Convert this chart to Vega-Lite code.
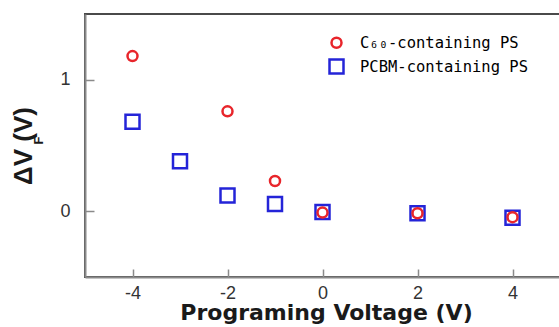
{
  "$schema": "https://vega.github.io/schema/vega-lite/v6.json",
  "width": 475,
  "height": 263,
  "autosize": {"type": "none"},
  "padding": {"left": 85, "top": 14, "right": 0, "bottom": 50},
  "background": "white",
  "config": {"view": {"stroke": "#4a4a4a", "strokeWidth": 2}, "font": "Liberation Sans"},
  "data": {
    "values": [
      {"voltage": -4, "dvf": 0.68, "series": "PCBM-containing PS"},
      {"voltage": -3, "dvf": 0.38, "series": "PCBM-containing PS"},
      {"voltage": -2, "dvf": 0.12, "series": "PCBM-containing PS"},
      {"voltage": -1, "dvf": 0.055, "series": "PCBM-containing PS"},
      {"voltage": 0, "dvf": -0.005, "series": "PCBM-containing PS"},
      {"voltage": 2, "dvf": -0.015, "series": "PCBM-containing PS"},
      {"voltage": 4, "dvf": -0.05, "series": "PCBM-containing PS"},
      {"voltage": -4, "dvf": 1.18, "series": "C₆₀-containing PS"},
      {"voltage": -2, "dvf": 0.76, "series": "C₆₀-containing PS"},
      {"voltage": -1, "dvf": 0.23, "series": "C₆₀-containing PS"},
      {"voltage": 0, "dvf": -0.01, "series": "C₆₀-containing PS"},
      {"voltage": 2, "dvf": -0.015, "series": "C₆₀-containing PS"},
      {"voltage": 4, "dvf": -0.045, "series": "C₆₀-containing PS"}
    ]
  },
  "layer": [
    {
      "mark": {"type": "point", "filled": false, "strokeWidth": 2.5, "opacity": 1, "clip": false},
      "encoding": {
        "x": {
          "field": "voltage", "type": "quantitative",
          "scale": {"domain": [-5, 5], "nice": false, "zero": false},
          "axis": {
            "values": [-4, -2, 0, 2, 4], "grid": false, "ticks": false, "tickSize": 0,
            "labelExpr": "replace(datum.label, '−', '-')",
            "domainColor": "#8a8a8a", "domainWidth": 2,
            "labelFontSize": 18, "labelColor": "#333333", "labelPadding": 7,
            "labelFont": "Liberation Sans",
            "title": "Programing Voltage (V)", "titleFontSize": 22, "titleFontWeight": "bold",
            "titleColor": "#1a1a1a", "titleFont": "DejaVu Sans",
            "titleX": 241, "titleY": 42, "titleBaseline": "alphabetic"
          }
        },
        "y": {
          "field": "dvf", "type": "quantitative",
          "scale": {"domain": [-0.5, 1.5], "nice": false, "zero": false},
          "axis": {
            "values": [0, 1], "grid": false, "ticks": false, "tickSize": 0,
            "domainColor": "#8a8a8a", "domainWidth": 2,
            "labelFontSize": 18, "labelColor": "#333333", "labelPadding": 15,
            "labelFont": "Liberation Sans",
            "title": "ΔV   (V)", "titleFontSize": 26, "titleFontWeight": "bold",
            "titleColor": "#1a1a1a", "titleFont": "Liberation Sans",
            "titleX": -62, "titleY": 131.5, "titleBaseline": "middle", "titleAngle": -90
          }
        },
        "color": {
          "field": "series", "type": "nominal",
          "scale": {"domain": ["C₆₀-containing PS", "PCBM-containing PS"], "range": ["#e8252b", "#2424d8"]},
          "legend": {
            "orient": "none", "legendX": 243, "legendY": 21, "title": null,
            "padding": 0, "rowPadding": 1, "labelOffset": 15,
            "labelFont": "DejaVu Sans Mono", "labelFontSize": 15.5, "labelLimit": 300,
            "symbolStrokeWidth": 2.5,
            "encode": {"labels": {"update": {"fill": {"signal": "indexof(datum.label, 'PCBM') >= 0 ? '#2a2ae0' : '#e8252b'"}}}}
          }
        },
        "shape": {
          "field": "series", "type": "nominal",
          "scale": {"domain": ["C₆₀-containing PS", "PCBM-containing PS"], "range": ["circle", "square"]}
        },
        "size": {
          "field": "series", "type": "nominal",
          "scale": {"domain": ["C₆₀-containing PS", "PCBM-containing PS"], "range": [100, 196]}
        }
      }
    },
    {
      "mark": {"type": "point", "opacity": 0},
      "encoding": {
        "x": {
          "field": "voltage", "type": "quantitative",
          "axis": {
            "orient": "top", "offset": -263, "values": [-4, -2, 0, 2, 4],
            "labels": false, "domain": false, "grid": false, "title": null,
            "ticks": true, "tickSize": 8, "tickColor": "#8a8a8a", "tickWidth": 1.5
          }
        },
        "y": {
          "field": "dvf", "type": "quantitative",
          "axis": {
            "orient": "right", "offset": -475, "values": [0, 1],
            "labels": false, "domain": false, "grid": false,
            "ticks": true, "tickSize": 9, "tickColor": "#8a8a8a", "tickWidth": 1.5,
            "title": "F", "titleFontSize": 13, "titleFontWeight": "bold",
            "titleColor": "#1a1a1a", "titleFont": "Liberation Sans",
            "titleX": -47, "titleY": 126, "titleAngle": -90, "titleBaseline": "middle", "titleAlign": "center"
          }
        }
      }
    }
  ],
  "resolve": {"axis": {"x": "independent", "y": "independent"}}
}
